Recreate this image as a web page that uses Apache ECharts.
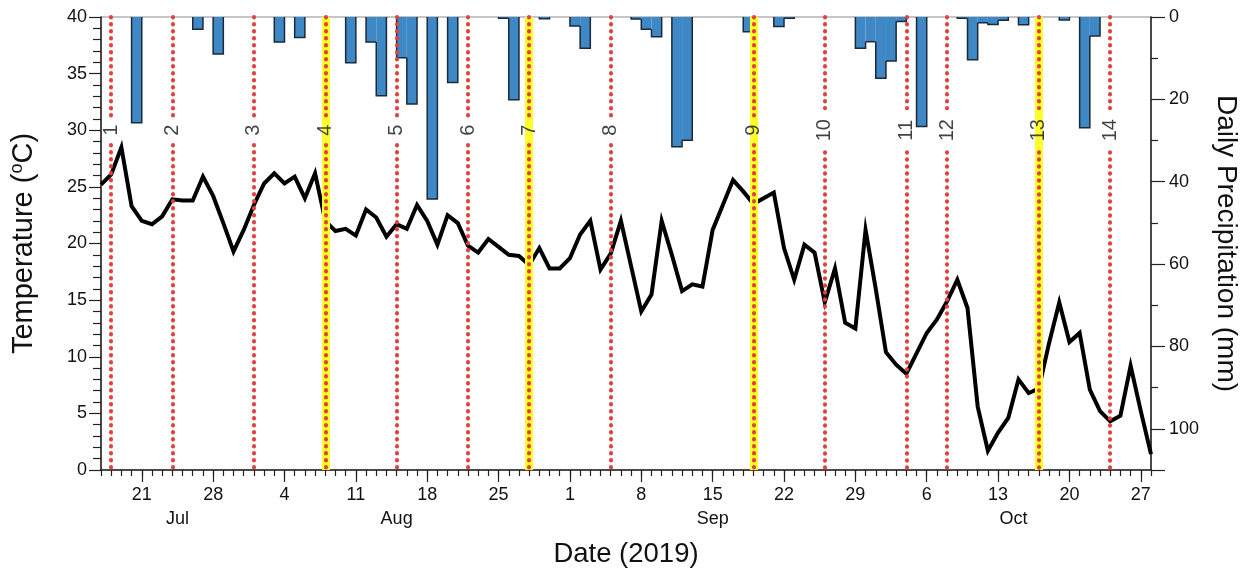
<!DOCTYPE html>
<html>
<head>
<meta charset="utf-8">
<script src="https://cdn.jsdelivr.net/npm/echarts@6/dist/echarts.min.js"></script>
<style>
html,body{margin:0;padding:0;background:#fff;}
#chart{width:1248px;height:573px;}
</style>
</head>
<body>
<div id="chart"></div>
<script>
// ---------------- DATA ----------------
const startDate = '2019-07-17';
const endDate = '2019-10-28';
// daily mean temperature (°C), one value per day from 2019-07-17 to 2019-10-28
const tempC = [
  25.2, 26.1, 28.5, 23.3, 22.0, 21.7, 22.4, 23.9, 23.8, 23.8,
  25.9, 24.2, 21.8, 19.3, 21.2, 23.4, 25.3, 26.2, 25.3, 25.9,
  24.0, 26.2, 22.0, 21.1, 21.3, 20.7, 23.0, 22.3, 20.6, 21.7,
  21.3, 23.4, 22.0, 19.9, 22.5, 21.8, 19.8, 19.2, 20.4, 19.7,
  19.0, 18.9, 18.1, 19.6, 17.8, 17.8, 18.7, 20.8, 22.0, 17.7,
  19.1, 22.0, 18.0, 14.0, 15.5, 22.0, 19.0, 15.8, 16.4, 16.2,
  21.2, 23.4, 25.6, 24.6, 23.5, 24.0, 24.5, 19.6, 16.8, 19.9,
  19.2, 14.8, 17.8, 13.0, 12.5, 21.2, 16.0, 10.4, 9.3, 8.5,
  10.3, 12.1, 13.3, 14.9, 16.8, 14.3, 5.6, 1.7, 3.3, 4.6,
  8.0, 6.8, 7.2, 11.2, 14.8, 11.3, 12.1, 7.1, 5.2, 4.3,
  4.8, 9.2, 5.2, 1.4
];
// daily precipitation (mm), days without rain omitted
const precipDates = [
  '2019-07-20','2019-07-26','2019-07-28','2019-08-03','2019-08-05','2019-08-10','2019-08-12','2019-08-13',
  '2019-08-15','2019-08-16','2019-08-18','2019-08-20','2019-08-25','2019-08-26','2019-08-29','2019-09-01',
  '2019-09-02','2019-09-07','2019-09-08','2019-09-09','2019-09-11','2019-09-12','2019-09-18','2019-09-21',
  '2019-09-22','2019-09-29','2019-09-30','2019-10-01','2019-10-02','2019-10-03','2019-10-05','2019-10-09',
  '2019-10-10','2019-10-11','2019-10-12','2019-10-13','2019-10-15','2019-10-19','2019-10-21','2019-10-22'
];
const precipMm = [
  25.7, 3.0, 9.0, 6.1, 5.0, 11.1, 6.1, 19.1,
  9.9, 21.1, 44.2, 15.9, 0.3, 20.1, 0.4, 2.2,
  7.6, 0.5, 3.0, 4.8, 31.5, 29.9, 3.6, 2.3,
  0.3, 7.6, 6.0, 14.9, 10.7, 1.1, 26.6, 0.3,
  10.4, 1.4, 1.8, 0.8, 1.9, 0.7, 26.9, 4.6
];
// sampling campaigns
const sampleDates = [
  '2019-07-18','2019-07-24','2019-08-01','2019-08-08','2019-08-15','2019-08-22','2019-08-28',
  '2019-09-05','2019-09-19','2019-09-26','2019-10-04','2019-10-08','2019-10-17','2019-10-24'
];
const sampleLabels = ['1','2','3','4','5','6','7','8','9','10','11','12','13','14'];
const highlightedSamples = ['4','7','9','13'];
// axis tick labels
const weekTickDates = [
  '2019-07-21','2019-07-28','2019-08-04','2019-08-11','2019-08-18','2019-08-25','2019-09-01',
  '2019-09-08','2019-09-15','2019-09-22','2019-09-29','2019-10-06','2019-10-13','2019-10-20','2019-10-27'
];
const monthNames = ['Jul','Aug','Sep','Oct'];
const monthLabelDates = ['2019-07-24T12:00','2019-08-15T00:00','2019-09-15T00:00','2019-10-14T12:00'];
const tempTicks = [0, 40, 5];      // min, max, step
const precipTicks = [0, 110, 20];  // min, max, step

// ---------------- HELPERS ----------------
const DAY = 86400000;
const T0 = Date.parse(startDate + 'T00:00:00Z');
function dayIndex(s) {
  const iso = s.length === 10 ? s + 'T00:00:00Z' : s + ':00Z';
  return (Date.parse(iso) - T0) / DAY;
}
const xMax = dayIndex(endDate);
const weekTickDays = weekTickDates.map(dayIndex);
const monthLabelDays = monthLabelDates.map(dayIndex);
const precipByDay = {};
precipDates.forEach((s, i) => { precipByDay[dayIndex(s)] = precipMm[i]; });

const FONT = '"Liberation Sans", Arial, Helvetica, sans-serif';
const AXIS_COLOR = '#222';

const labelY = 30;          // temperature value at which sample numbers sit
const chart = echarts.init(document.getElementById('chart'), null, {renderer: 'canvas'});

const dotSegments = [];
sampleDates.forEach((s, i) => {
  const d = dayIndex(s);
  const half = sampleLabels[i].length > 1 ? 1.95 : 1.3;
  dotSegments.push([{coord: [d, tempTicks[1]]}, {coord: [d, labelY + half]}]);
  dotSegments.push([{coord: [d, labelY - half]}, {coord: [d, tempTicks[0]]}]);
});

const option = {
  animation: false,
  backgroundColor: '#fff',
  grid: {left: 99, right: 95, top: 17, bottom: 102, show: true, borderColor: '#8c8c8c', borderWidth: 1.2, backgroundColor: 'transparent'},
  xAxis: [
    {
      type: 'value', min: 0, max: xMax, interval: 1, position: 'bottom',
      axisLine: {show: true, onZero: false, lineStyle: {color: AXIS_COLOR, width: 1.5}},
      axisTick: {show: true, inside: false, length: 6, lineStyle: {color: AXIS_COLOR, width: 1.2}},
      splitLine: {show: false},
      axisLabel: {
        customValues: weekTickDays, margin: 16, fontSize: 18, color: '#111', fontFamily: FONT,
        formatter: v => String(new Date(T0 + v * DAY).getUTCDate())
      },
      name: 'Date (2019)', nameLocation: 'middle', nameGap: 70,
      nameTextStyle: {fontSize: 27.5, color: '#111', fontFamily: FONT}
    },
    {
      type: 'value', min: 0, max: xMax, position: 'bottom', offset: 0,
      axisLine: {show: false, onZero: false},
      axisTick: {show: true, inside: false, customValues: weekTickDays, length: 12, lineStyle: {color: AXIS_COLOR, width: 1.2}},
      splitLine: {show: false},
      axisLabel: {
        customValues: monthLabelDays, margin: 40, fontSize: 18, color: '#111', fontFamily: FONT,
        formatter: v => monthNames[monthLabelDays.indexOf(v)] || ''
      }
    }
  ],
  yAxis: [
    {
      type: 'value', position: 'left', min: tempTicks[0], max: tempTicks[1], interval: tempTicks[2],
      axisLine: {show: true, onZero: false, lineStyle: {color: AXIS_COLOR, width: 1.5}},
      axisTick: {show: true, inside: false, length: 12, lineStyle: {color: AXIS_COLOR, width: 1.2}},
      minorTick: {show: true, splitNumber: 5, length: 8, lineStyle: {color: AXIS_COLOR, width: 1.2}},
      splitLine: {show: false},
      axisLabel: {margin: 14, fontSize: 18, color: '#111', fontFamily: FONT},
      name: 'Temperature ({sup|o}C)', nameLocation: 'middle', nameGap: 61,
      nameTextStyle: {
        fontSize: 29, color: '#111', fontFamily: FONT, lineHeight: 32,
        rich: {sup: {fontSize: 18, color: '#111', fontFamily: FONT, verticalAlign: 'top', lineHeight: 32, padding: [0, 0, 12, 0]}}
      }
    },
    {
      type: 'value', position: 'right', min: precipTicks[0], max: precipTicks[1], interval: precipTicks[2], inverse: true,
      axisLine: {show: true, onZero: false, lineStyle: {color: AXIS_COLOR, width: 1.5}},
      axisTick: {show: true, inside: false, length: 14, lineStyle: {color: AXIS_COLOR, width: 1.2}},
      minorTick: {show: true, splitNumber: 2, length: 7, lineStyle: {color: AXIS_COLOR, width: 1.2}},
      splitLine: {show: false},
      axisLabel: {margin: 18, fontSize: 18, color: '#111', fontFamily: FONT, showMaxLabel: false},
      name: 'Daily Precipitation (mm)', nameLocation: 'middle', nameGap: 61, nameRotate: -90,
      nameTextStyle: {fontSize: 28, color: '#111', fontFamily: FONT}
    }
  ],
  series: [
    {
      name: 'precip', type: 'custom', xAxisIndex: 0, yAxisIndex: 1, z: 1, clip: true,
      data: precipDates.map((s, i) => [dayIndex(s), precipMm[i]]),
      renderItem: function (params, api) {
        const d = api.value(0), v = api.value(1);
        const p = precipByDay[d - 1] || 0, n = precipByDay[d + 1] || 0;
        const a = api.coord([d, 0]);
        const b = api.coord([d + 1, v]);
        const pts = [];
        if (v > p) pts.push(api.coord([d, p]));
        pts.push(api.coord([d, v]));
        pts.push(api.coord([d + 1, v]));
        if (v > n) pts.push(api.coord([d + 1, n]));
        return {
          type: 'group',
          children: [
            {type: 'rect', shape: {x: a[0], y: a[1], width: b[0] - a[0], height: b[1] - a[1]}, style: {fill: '#3f88c6'}},
            {type: 'polyline', shape: {points: pts}, style: {stroke: '#1b2a3a', lineWidth: 1.5, fill: null}}
          ]
        };
      }
    },
    {
      name: 'temperature', type: 'line', xAxisIndex: 0, yAxisIndex: 0, z: 2,
      data: tempC.map((t, i) => [i, t]),
      symbol: 'none', smooth: false,
      lineStyle: {color: '#000', width: 4, join: 'miter', miterLimit: 10}
    },
    {
      name: 'highlight', type: 'line', xAxisIndex: 0, yAxisIndex: 0, z: 3, data: [],
      markLine: {
        silent: true, symbol: ['none', 'none'], label: {show: false}, animation: false,
        lineStyle: {color: '#ffff2a', width: 8, type: 'solid', opacity: 1},
        data: sampleDates.filter((s, i) => highlightedSamples.indexOf(sampleLabels[i]) >= 0).map(s => ({xAxis: dayIndex(s)}))
      }
    },
    {
      name: 'samples', type: 'line', xAxisIndex: 0, yAxisIndex: 0, z: 4, data: [],
      markLine: {
        silent: true, symbol: ['none', 'none'], label: {show: false}, animation: false,
        lineStyle: {color: '#e0413a', width: 4, type: [0.5, 6.5], cap: 'round', opacity: 1},
        data: dotSegments
      }
    },
    {
      name: 'sampleLabels', type: 'scatter', xAxisIndex: 0, yAxisIndex: 0, z: 5,
      symbolSize: 0, silent: true,
      data: sampleDates.map((s, i) => ({name: sampleLabels[i], value: [dayIndex(s), labelY]})),
      label: {show: true, position: 'inside', formatter: '{b}', rotate: 90, fontSize: 20, color: '#111', fontFamily: FONT}
    }
  ]
};
chart.setOption(option);
</script>
</body>
</html>
